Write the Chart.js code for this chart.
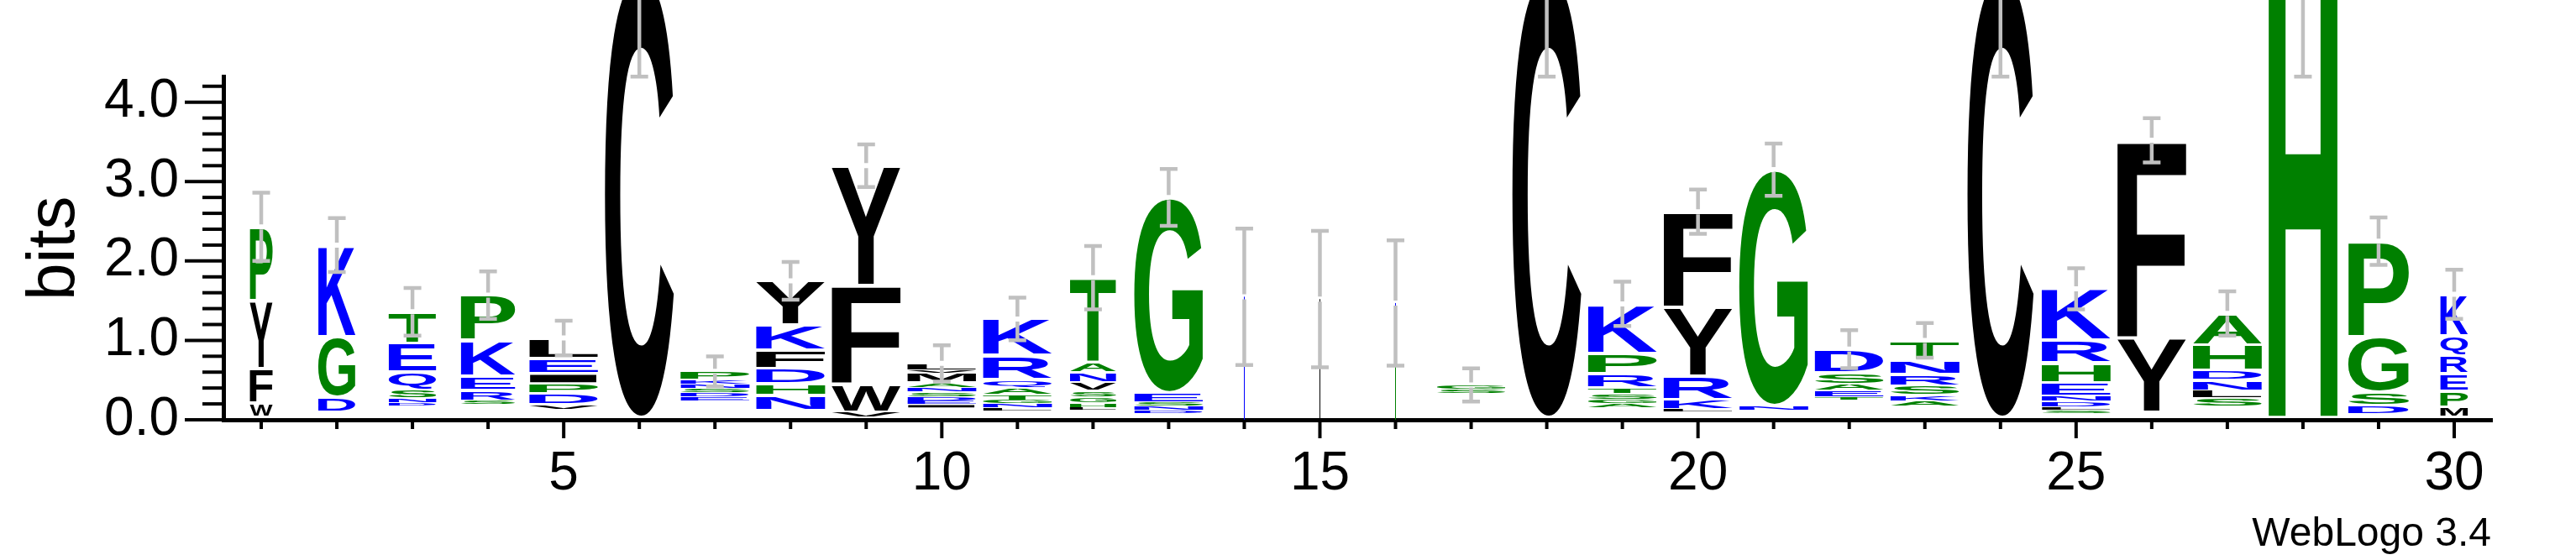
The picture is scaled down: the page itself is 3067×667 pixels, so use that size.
<!DOCTYPE html>
<html>
<head>
<meta charset="utf-8">
<script src="https://cdn.jsdelivr.net/npm/chart.js@4.4.1/dist/chart.umd.min.js"></script>
<style>
  html, body { margin: 0; padding: 0; background: #ffffff; }
  canvas { display: block; }
</style>
</head>
<body>
<canvas id="logo" width="3067" height="667" style="width:3067px;height:667px"></canvas>
<script>
const positions = [1,2,3,4,5,6,7,8,9,10,11,12,13,14,15,16,17,18,19,20,21,22,23,24,25,26,27,28,29,30];
const labeledPositions = [5,10,15,20,25,30];
const yTickValues = [0,1,2,3,4];

// letters of each column, bottom to top ('-' = residual too small to draw)
const columnLetters = [
  '-WFYP', '-DGK', '-DNSQET', '-SREKP', '-VDPIEL', '-C', '-EDSNKP', '-NHDFKY', '-VWFY', '-IEDSNAMVL',
  '-LNGTAQRK', '-LHGSVNAT', '-DNSEG', 'K', 'C', 'GN', '-SG', '-C', '-AGSTRPK', '-LKRYF',
  '-NG', '-TEASD', '-AKSRNT', '-C', '-SLDNEHRK', '-YF', '-SLNDHA', '-H', '-DSGP', '-MPERQK'
];
// height in bits of each letter, same order
const columnBits = [
  [0.03,0.18,0.44,0.85,0.93],
  [0.10,0.19,0.76,1.15],
  [0.18,0.04,0.05,0.10,0.23,0.36,0.40],
  [0.19,0.05,0.13,0.18,0.45,0.57],
  [0.13,0.06,0.14,0.13,0.12,0.19,0.26],
  [0.03,5.57],
  [0.24,0.05,0.05,0.06,0.05,0.06,0.10],
  [0.12,0.19,0.14,0.20,0.23,0.31,0.56],
  [0.03,0.07,0.35,1.24,1.51],
  [0.15,0.04,0.05,0.05,0.06,0.06,0.06,0.12,0.03,0.09],
  [0.11,0.04,0.05,0.05,0.07,0.09,0.10,0.30,0.46],
  [0.12,0.03,0.06,0.08,0.08,0.10,0.13,0.13,1.06],
  [0.08,0.04,0.05,0.05,0.12,2.46],
  [1.55],
  [1.52],
  [1.39,0.08],
  [0.33,0.05,0.06],
  [0.03,5.57],
  [0.15,0.05,0.06,0.07,0.07,0.18,0.26,0.62],
  [0.10,0.03,0.12,0.30,0.87,1.20],
  [0.12,0.06,2.97],
  [0.25,0.04,0.08,0.08,0.14,0.30],
  [0.17,0.07,0.07,0.12,0.14,0.18,0.25],
  [0.03,5.57],
  [0.08,0.04,0.04,0.07,0.07,0.17,0.25,0.28,0.65],
  [0.09,0.94,2.49],
  [0.17,0.10,0.10,0.13,0.12,0.32,0.40],
  [0.03,5.57],
  [0.07,0.11,0.17,0.70,1.20],
  [0.04,0.12,0.20,0.22,0.23,0.25,0.52]
];
// relative column width (fraction of non-gap sequences)
const columnWidth = [0.33,0.54,0.69,0.79,1,1,1,1,1,1,1,0.67,1,0.015,0.015,0.015,1,1,1,1,1,1,1,0.96,1,1,1,1,0.88,0.4];
// half-length of the error bar at each column (bits)
const errorBits = [0.45,0.36,0.32,0.32,0.24,1.3,0.21,0.26,0.29,0.25,0.29,0.42,0.38,0.88,0.88,0.81,0.23,1.3,0.30,0.30,0.35,0.26,0.24,1.3,0.28,0.30,0.30,1.3,0.32,0.33];

const blackLetters = 'CFYWLMIV';
const greenLetters = 'GPHTAS';
const blueLetters = 'KRDENQ';

const FONT = "'Liberation Sans', Arial, Helvetica, sans-serif";

function colorOf(ch) {
  if (greenLetters.includes(ch)) return 'rgb(0,128,0)';
  if (blueLetters.includes(ch)) return 'rgb(0,0,255)';
  return 'rgb(0,0,0)';
}

// datasets by stack layer
const nLayers = Math.max(...columnLetters.map(s => s.length));
const datasets = [];
for (let i = 0; i < nLayers; i++) {
  datasets.push({
    label: 'layer ' + (i + 1),
    data: columnBits.map(b => (b[i] !== undefined ? b[i] : 0)),
    backgroundColor: 'rgba(0,0,0,0)',
    borderWidth: 0,
    categoryPercentage: 1.0,
    barPercentage: 0.911
  });
}

function drawGlyph(ctx, ch, cx, w, yTop, yBot, color) {
  const h = yBot - yTop;
  if (h < 0.4 || w <= 0) return;
  ctx.save();
  ctx.fillStyle = color;
  if (w < 3) {
    // a glyph squeezed to a hairline renders as a plain line
    ctx.fillRect(Math.round(cx - 0.5), yTop, 1, h);
    ctx.restore();
    return;
  }
  ctx.font = 'bold 200px ' + FONT;
  const m = ctx.measureText(ch);
  const l = m.actualBoundingBoxLeft, r = m.actualBoundingBoxRight;
  const a = m.actualBoundingBoxAscent, d = m.actualBoundingBoxDescent;
  const gw = l + r, gh = a + d;
  const pad = Math.min(2, h * 0.12);
  const top = yTop + pad, hh = h - 2 * pad;
  ctx.translate(cx - w / 2, top);
  ctx.scale(w / gw, hh / gh);
  ctx.textAlign = 'left';
  ctx.textBaseline = 'alphabetic';
  ctx.fillText(ch, l, a);
  ctx.restore();
}

const letterPlugin = {
  id: 'letters',
  afterDatasetsDraw(chart) {
    const ctx = chart.ctx;
    chart.data.datasets.forEach((ds, i) => {
      const meta = chart.getDatasetMeta(i);
      meta.data.forEach((bar, j) => {
        const ch = columnLetters[j][i];
        if (!ch || ch === '-') return;
        const p = bar.getProps(['x', 'y', 'base', 'width'], true);
        drawGlyph(ctx, ch, p.x, p.width * columnWidth[j], Math.min(p.y, p.base), Math.max(p.y, p.base), colorOf(ch));
      });
    });
  }
};

const errorPlugin = {
  id: 'errorbars',
  afterDatasetsDraw(chart) {
    const ctx = chart.ctx;
    const xs = chart.scales.x, ys = chart.scales.y;
    ctx.save();
    ctx.strokeStyle = 'rgb(192,192,192)';
    ctx.lineWidth = 4.5;
    ctx.lineCap = 'butt';
    columnBits.forEach((bits, j) => {
      const total = bits.reduce((s, v) => s + v, 0);
      const x = xs.getPixelForValue(j);
      const yc = ys.getPixelForValue(total);
      const yu = ys.getPixelForValue(total + errorBits[j]);
      const yd = ys.getPixelForValue(total - errorBits[j]);
      const gap = 3;
      ctx.beginPath();
      ctx.moveTo(x, yu); ctx.lineTo(x, yc - gap);
      ctx.moveTo(x, yc + gap); ctx.lineTo(x, yd);
      ctx.moveTo(x - 10.5, yu + 2); ctx.lineTo(x + 10.5, yu + 2);
      ctx.moveTo(x - 10.5, yd - 2); ctx.lineTo(x + 10.5, yd - 2);
      ctx.stroke();
    });
    ctx.restore();
  }
};

const axisPlugin = {
  id: 'axisTicks',
  afterDraw(chart) {
    const ctx = chart.ctx;
    const xs = chart.scales.x, ys = chart.scales.y;
    const area = chart.chartArea;
    ctx.save();
    ctx.strokeStyle = '#000';
    ctx.lineWidth = 4;
    // y ticks every 0.2 bits, long at whole bits
    for (let k = 0; k <= 21; k++) {
      const v = k / 5;
      const y = ys.getPixelForValue(v);
      const major = (k % 5 === 0);
      ctx.beginPath();
      ctx.moveTo(area.left - (major ? 46 : 25), y);
      ctx.lineTo(area.left, y);
      ctx.stroke();
    }
    // x ticks at every column, long at labelled columns
    positions.forEach((p, j) => {
      const x = xs.getPixelForValue(j);
      const major = labeledPositions.includes(p);
      ctx.beginPath();
      ctx.moveTo(x, area.bottom);
      ctx.lineTo(x, area.bottom + (major ? 22 : 11));
      ctx.stroke();
    });
    // WebLogo stamp
    ctx.fillStyle = '#000';
    ctx.font = '48px ' + FONT;
    ctx.textAlign = 'right';
    ctx.textBaseline = 'alphabetic';
    ctx.fillText('WebLogo 3.4', area.right - 1, 650);
    ctx.restore();
  }
};

new Chart(document.getElementById('logo'), {
  type: 'bar',
  data: { labels: positions.map(String), datasets },
  options: {
    responsive: false,
    animation: false,
    devicePixelRatio: 1,
    layout: { padding: { left: 0, right: 100, top: 50, bottom: 0 } },
    plugins: { legend: { display: false }, tooltip: { enabled: false } },
    scales: {
      x: {
        type: 'category',
        stacked: true,
        offset: true,
        grid: { display: false, drawTicks: false },
        border: { display: true, color: '#000', width: 5 },
        ticks: {
          autoSkip: false, maxRotation: 0, minRotation: 0, padding: 27, color: '#000',
          font: { family: FONT, size: 64 },
          callback: (v, i) => labeledPositions.includes(positions[i]) ? String(positions[i]) : ''
        },
        afterFit: s => { s.height = 167; }
      },
      y: {
        stacked: true,
        min: 0,
        max: 4.32,
        grid: { display: false, drawTicks: false },
        border: { display: true, color: '#000', width: 5 },
        ticks: {
          padding: 53, color: '#000',
          font: { family: FONT, size: 64 },
          callback: v => Number(v).toFixed(1)
        },
        afterBuildTicks: s => { s.ticks = yTickValues.map(v => ({ value: v })); },
        afterFit: s => { s.width = 266; },
        title: { display: true, text: 'bits', color: '#000', font: { family: FONT, size: 80 }, padding: { top: 18, bottom: 0 } }
      }
    }
  },
  plugins: [letterPlugin, errorPlugin, axisPlugin]
});
</script>
</body>
</html>
